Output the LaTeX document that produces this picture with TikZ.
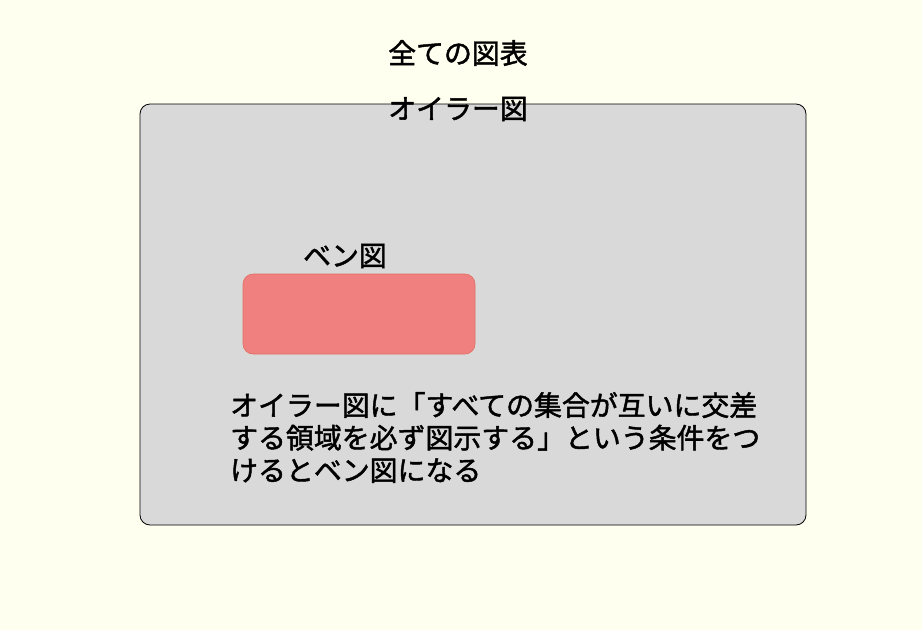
\documentclass[tikz,border=0pt]{standalone}
\usepackage{fontspec}
\newfontfamily\cjk[FakeBold=1.6]{Noto Sans CJK JP}
\definecolor{bgcol}{HTML}{FFFFF0}
\definecolor{graybox}{HTML}{D9D9D9}
\definecolor{redfill}{HTML}{F08080}
\definecolor{redline}{HTML}{E0705F}
\tikzset{
  lbl/.style={font=\cjk\fontsize{27.9}{32.5}\selectfont, inner sep=0pt, text=black},
  outerbox/.style={draw=black, fill=graybox, rounded corners=10pt, line width=0.8pt},
  vennbox/.style={draw=redline, fill=redfill, rounded corners=10pt, line width=0.6pt}
}
\begin{document}
\begin{tikzpicture}[x=1pt,y=-1pt]
\fill[bgcol] (0,0) rectangle (922,630);
\useasboundingbox (0,0) rectangle (922,630);
\draw[outerbox] (140,104) rectangle (806,525);
\draw[vennbox] (243,274) rectangle (475,354);
\node[lbl] (all) at (458,53) {全ての図表};
\node[lbl] (euler) at (458,109) {オイラー図};
\node[lbl] (venn) at (345,256) {ベン図};
\node[lbl, align=left, anchor=west] (desc) at (230,437.5) {オイラー図に「すべての集合が互いに交差\\する領域を必ず図示する」という条件をつ\\けるとベン図になる};
\end{tikzpicture}
\end{document}
